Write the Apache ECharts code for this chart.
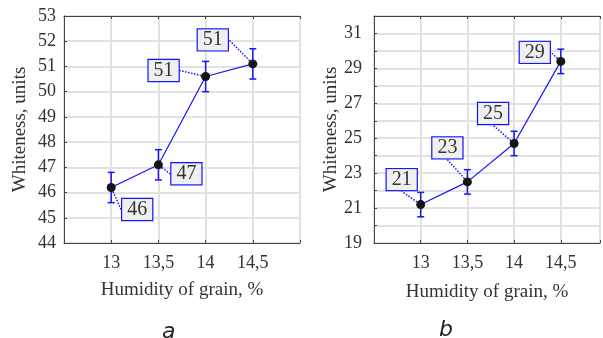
<!DOCTYPE html>
<html>
<head>
<meta charset="utf-8">
<script src="https://cdn.jsdelivr.net/npm/echarts@6/dist/echarts.min.js"></script>
<style>
  html, body { margin: 0; padding: 0; background: #fff; }
  #chart { width: 603px; height: 338px; }
</style>
</head>
<body>
<div id="chart"></div>
<script>
// data
var humidity = [13, 13.5, 14, 14.5];
var whitenessA = [46.2, 47.1, 50.6, 51.1];
var errorA = [0.6, 0.6, 0.6, 0.6];
var whitenessB = [21.2, 22.5, 24.7, 29.4];
var errorB = [0.7, 0.7, 0.7, 0.7];
var xTickLabels = ["13", "13,5", "14", "14,5"];

// where each value box sits relative to its point (px)
var shiftA = [[26, 22], [28, 9], [-42, -6], [-40, -24]];
var shiftB = [[-19, -25], [-20, -34], [-21, -30], [-26, -9]];

var serif = "Liberation Serif";
var blue = "#1414ff";

function xLabel(v) {
  var i = humidity.indexOf(v);
  return i < 0 ? "" : xTickLabels[i];
}

function xAxisFor(gridIndex, top, max, gap) {
  return {
    type: "value",
    gridIndex: gridIndex,
    position: top ? "top" : "bottom",
    min: 12.5,
    max: max,
    interval: 0.5,
    name: top ? "" : "Humidity of grain, %",
    nameLocation: "middle",
    nameGap: gap,
    nameTextStyle: { fontFamily: serif, fontSize: 19, color: "#333" },
    axisLine: { show: true, lineStyle: { color: "#444", width: 1 } },
    axisTick: { show: true, inside: true, length: 3, lineStyle: { color: "#444" } },
    axisLabel: { show: !top, formatter: xLabel, fontFamily: serif, fontSize: 18, color: "#333", margin: 11 },
    splitLine: { show: !top, lineStyle: { color: "#e2e2e2", width: 2 } }
  };
}

function pairs(ys, es) {
  return humidity.map(function (x, i) { return es ? [x, ys[i], es[i]] : [x, ys[i]]; });
}

function errorSeries(xi, yi, ys, es) {
  return {
    type: "custom",
    xAxisIndex: xi,
    yAxisIndex: yi,
    z: 2,
    data: pairs(ys, es),
    renderItem: function (params, api) {
      var x = api.value(0), y = api.value(1), e = api.value(2);
      var hi = api.coord([x, y + e]);
      var lo = api.coord([x, y - e]);
      var w = 3.5;
      var st = { stroke: blue, lineWidth: 1.5 };
      return {
        type: "group",
        children: [
          { type: "line", shape: { x1: hi[0], y1: hi[1], x2: lo[0], y2: lo[1] }, style: st },
          { type: "line", shape: { x1: hi[0] - w, y1: hi[1], x2: hi[0] + w, y2: hi[1] }, style: st },
          { type: "line", shape: { x1: lo[0] - w, y1: lo[1], x2: lo[0] + w, y2: lo[1] }, style: st }
        ]
      };
    }
  };
}

function lineSeries(xi, yi, ys, shift) {
  return {
    type: "line",
    xAxisIndex: xi,
    yAxisIndex: yi,
    z: 3,
    data: pairs(ys),
    symbol: "circle",
    symbolSize: 9,
    itemStyle: { color: "#151515" },
    lineStyle: { color: blue, width: 1.2 },
    label: {
      show: true,
      position: "inside",
      formatter: function (p) { return String(Math.round(p.value[1])); },
      fontFamily: serif,
      fontSize: 20,
      color: "#333",
      backgroundColor: "#f0f0f0",
      borderColor: blue,
      borderWidth: 1.2,
      padding: [1, 5, 0, 5],
      lineHeight: 20
    },
    labelLine: { show: true, lineStyle: { color: blue, width: 1.5, type: "dotted" } },
    labelLayout: function (p) {
      var s = shift[p.dataIndex];
      return { dx: s[0], dy: s[1] };
    }
  };
}

var myChart = echarts.init(document.getElementById("chart"));
myChart.setOption({
  animation: false,
  grid: [
    { left: 64, top: 16, right: 303, bottom: 95, show: true, borderColor: "#444", borderWidth: 1 },
    { left: 374, top: 16, right: 0, bottom: 95, show: true, borderColor: "#444", borderWidth: 1 }
  ],
  xAxis: [
    xAxisFor(0, false, 15, 38),
    xAxisFor(1, false, 14.92, 40),
    xAxisFor(0, true, 15, 0),
    xAxisFor(1, true, 14.92, 0)
  ],
  yAxis: [
    {
      type: "value",
      gridIndex: 0,
      min: 44,
      max: 53,
      interval: 1,
      name: "Whiteness, units",
      nameLocation: "middle",
      nameGap: 34,
      nameTextStyle: { fontFamily: serif, fontSize: 19, color: "#333" },
      axisLine: { show: true, lineStyle: { color: "#444" } },
      axisTick: { show: true, inside: true, length: 3, lineStyle: { color: "#444" } },
      axisLabel: { fontFamily: serif, fontSize: 18, color: "#333", margin: 8 },
      splitLine: { show: true, lineStyle: { color: "#e2e2e2", width: 2 } }
    },
    {
      type: "value",
      gridIndex: 1,
      min: 19,
      max: 32,
      interval: 1,
      name: "Whiteness, units",
      nameLocation: "middle",
      nameGap: 32,
      nameTextStyle: { fontFamily: serif, fontSize: 19, color: "#333" },
      axisLine: { show: true, lineStyle: { color: "#444" } },
      axisTick: { show: true, inside: true, length: 3, lineStyle: { color: "#444" } },
      axisLabel: {
        fontFamily: serif, fontSize: 18, color: "#333", margin: 12,
        formatter: function (v) { return v % 2 === 1 && v < 32 ? String(v) : ""; }
      },
      splitLine: { show: true, lineStyle: { color: "#e2e2e2", width: 2 } }
    }
  ],
  graphic: [
    { type: "text", left: 162, top: 321, style: { text: "a", font: "italic 22px 'DejaVu Sans'", fill: "#222" } },
    { type: "text", left: 439, top: 319, style: { text: "b", font: "italic 22px 'DejaVu Sans'", fill: "#222" } }
  ],
  series: [
    errorSeries(0, 0, whitenessA, errorA),
    lineSeries(0, 0, whitenessA, shiftA),
    errorSeries(1, 1, whitenessB, errorB),
    lineSeries(1, 1, whitenessB, shiftB)
  ]
});
</script>
</body>
</html>
